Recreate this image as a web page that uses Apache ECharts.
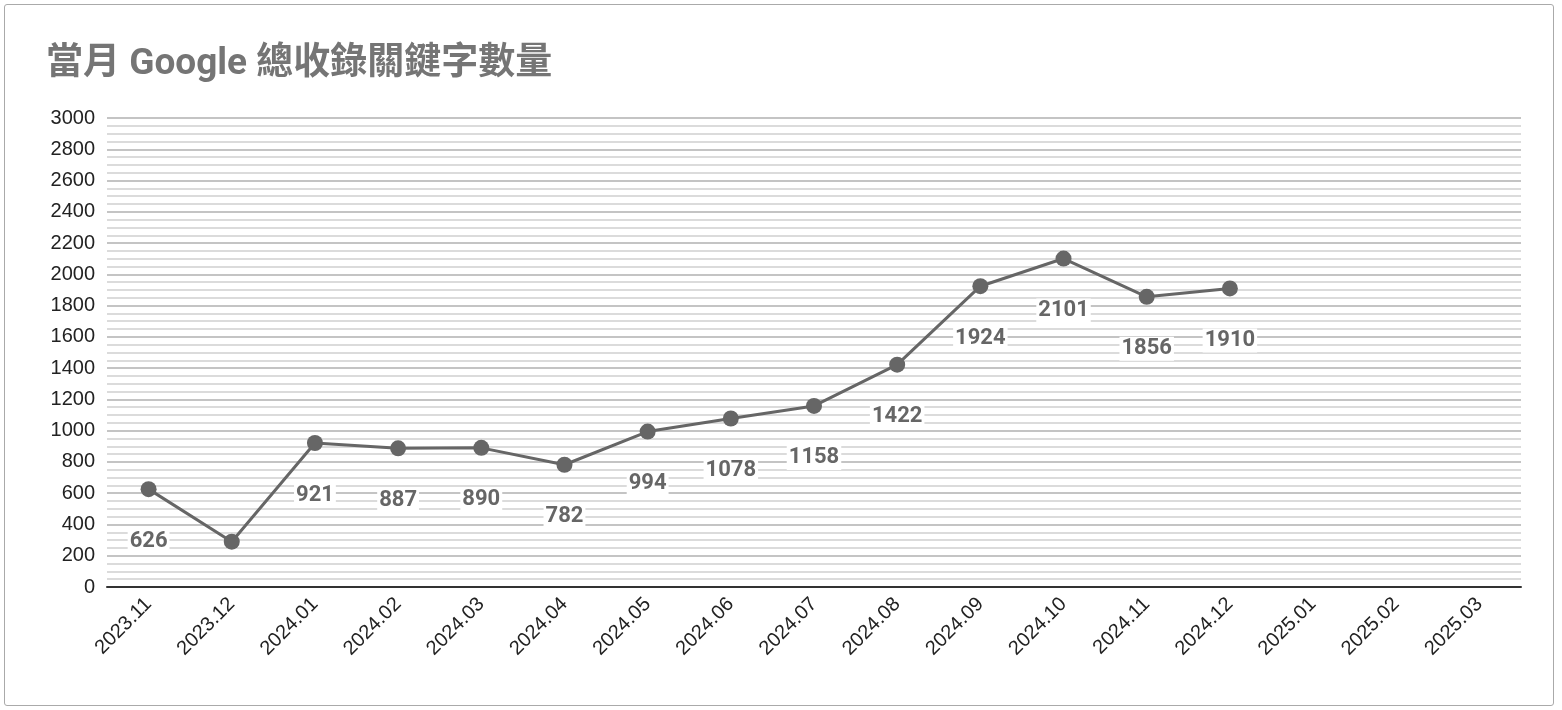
<!DOCTYPE html>
<html><head><meta charset="utf-8">
<script src="https://cdn.jsdelivr.net/npm/echarts@6/dist/echarts.min.js"></script>
<style>body{margin:0;background:#fff}#box{position:absolute;left:4px;top:4px;width:1548px;height:700px;border:1px solid #aaa;border-radius:3px}#c{width:100%;height:100%}</style>
</head><body><div id="box"><div id="c"></div></div>
<script>
const categories=['2023.11','2023.12','2024.01','2024.02','2024.03','2024.04','2024.05','2024.06','2024.07','2024.08','2024.09','2024.10','2024.11','2024.12','2025.01','2025.02','2025.03'];
const values=[626,290,921,887,890,782,994,1078,1158,1422,1924,2101,1856,1910,null,null,null];
const showLabel=[true,false,true,true,true,true,true,true,true,true,true,true,true,true];
const chart=echarts.init(document.getElementById('c'));
chart.setOption({
 title:{text:'當月 Google 總收錄關鍵字數量',left:36,top:36,textStyle:{fontFamily:'Roboto, "Noto Sans CJK TC", sans-serif',fontSize:37,fontWeight:'bold',color:'#757575'}},
 grid:{left:102,right:32,top:113,bottom:118},
 xAxis:{type:'category',data:categories,boundaryGap:true,axisTick:{show:false},axisLine:{lineStyle:{color:'#333',width:2}},
  axisLabel:{rotate:45,fontSize:20,color:'#222',fontFamily:'Arial, Liberation Sans',margin:14}},
 yAxis:{type:'value',min:0,max:3000,interval:200,axisLabel:{fontSize:20,color:'#222',fontFamily:'Arial, Liberation Sans',margin:12,formatter:v=>String(v)},
  splitLine:{lineStyle:{color:'#b0b0b0',width:1.5}},minorTick:{show:false,splitNumber:4},
  minorSplitLine:{show:true,lineStyle:{color:'#cfcfcf',width:1.5}}},
 series:[{type:'line',data:values.map((v,i)=>({value:v,label:{show:!!showLabel[i]}})),symbol:'circle',symbolSize:16,
  lineStyle:{color:'#666',width:3},itemStyle:{color:'#666'},
  label:{position:'bottom',distance:32,fontSize:22,fontWeight:'bold',color:'#666',fontFamily:'Roboto, sans-serif',backgroundColor:'#fff',padding:[1,2]}}]
});
</script></body></html>
